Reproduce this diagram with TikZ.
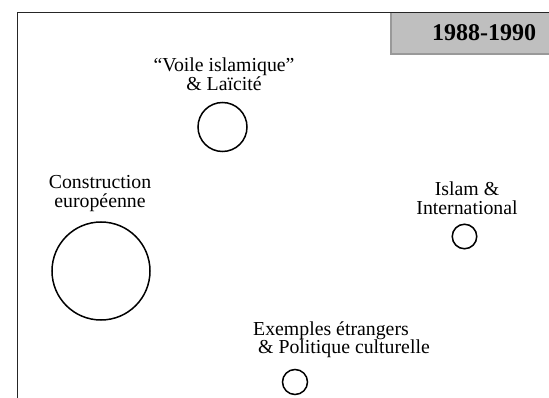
\documentclass[tikz,border=0pt]{standalone}
\usepackage{fontspec}
\setmainfont{Liberation Serif}
\begin{document}
\begin{tikzpicture}[x=1pt,y=-1pt,
  lbl/.style={font=\fontsize{19.8}{18.5}\selectfont, align=center, inner sep=0pt, anchor=base},
  topic/.style={circle, draw=black, line width=1.5pt, inner sep=0pt, minimum size=#1},
  frameline/.style={draw=black!85, line width=1.6pt},
  yearbox/.style={fill=black!25, draw=none}
]
\useasboundingbox (0,0) rectangle (549,398);
% year box
\fill[yearbox] (390,13) rectangle (549,55);
\draw[draw=black!40, line width=2pt] (391,13) -- (391,54) -- (549,54);
\node[inner sep=0pt, anchor=base, font=\fontsize{24}{24}\selectfont\bfseries] (year) at (484,41) {1988-1990};
% frame
\coordinate (fbl) at (17.3,398);
\coordinate (ftl) at (17.3,12.5);
\coordinate (ftr) at (549,12.5);
\draw[frameline] (fbl) -- (ftl) -- (ftr);
% labels (anchor = baseline of last line)
\node[lbl] (voile) at (224,90.5) {“Voile islamique”\\\& Laïcité};
\node[lbl] (constr) at (100,207.5) {Construction\\européenne};
\node[lbl] (islam) at (467,214.5) {Islam \&\\International};
\node[lbl, align=left, anchor=base west] (exemples) at (253,353.5) {Exemples étrangers\\\hspace*{5pt}\& Politique culturelle};
% circles
\node[topic=49pt] (cvoile) at (222.5,127) {};
\node[topic=98pt] (cconstr) at (101,271) {};
\node[topic=24.5pt] (cislam) at (464.5,236.5) {};
\node[topic=25pt] (cexemples) at (295,382) {};
\end{tikzpicture}
\end{document}
